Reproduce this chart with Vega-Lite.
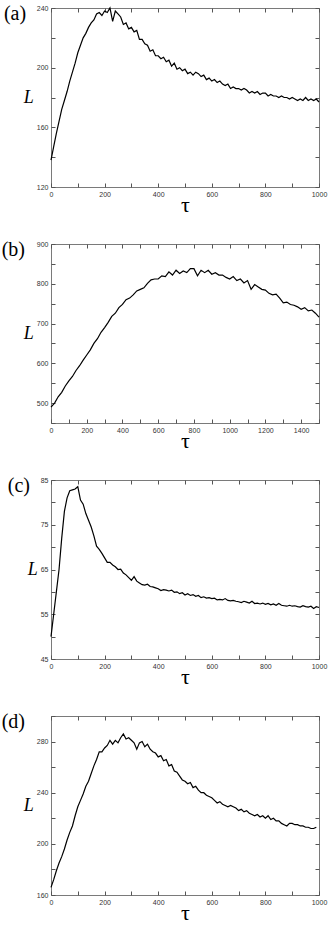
{
  "$schema": "https://vega.github.io/schema/vega-lite/v6.json",
  "background": "white",
  "padding": {"left": 1, "top": 3, "right": 2, "bottom": 0},
  "spacing": 23,
  "config": {
    "view": {"stroke": "#7a7a7a", "strokeWidth": 1},
    "axis": {"grid": false, "domain": false, "tickColor": "#555", "tickSize": -4, "tickWidth": 1,
      "labelFont": "Liberation Sans", "labelFontSize": 7, "labelColor": "#333", "labelFlush": false,
      "labelOverlap": false, "labelPadding": 7, "format": "d"},
    "line": {"color": "black", "strokeWidth": 1.2},
    "title": {"orient": "left", "anchor": "end", "angle": 0, "align": "left", "baseline": "top",
      "font": "Liberation Serif", "fontSize": 20, "fontWeight": "normal", "color": "black", "offset": -25}
  },
  "datasets": {
    "a": [{"t":0,"L":138},{"t":10,"L":147},{"t":20,"L":156},{"t":30,"L":164},{"t":40,"L":172},{"t":50,"L":178},{"t":60,"L":184},{"t":70,"L":191},{"t":80,"L":197},{"t":90,"L":203},{"t":100,"L":210},{"t":110,"L":215},{"t":120,"L":220},{"t":130,"L":223},{"t":140,"L":227},{"t":150,"L":230},{"t":160,"L":232},{"t":170,"L":236},{"t":180,"L":237},{"t":190,"L":235},{"t":200,"L":238},{"t":210,"L":237},{"t":220,"L":240},{"t":230,"L":231},{"t":240,"L":238},{"t":250,"L":236},{"t":260,"L":234},{"t":270,"L":229},{"t":280,"L":230},{"t":290,"L":226},{"t":300,"L":227},{"t":310,"L":224},{"t":320,"L":225},{"t":330,"L":219},{"t":340,"L":219},{"t":350,"L":216},{"t":360,"L":215},{"t":370,"L":211},{"t":380,"L":212},{"t":390,"L":208},{"t":400,"L":208},{"t":410,"L":206},{"t":420,"L":207},{"t":430,"L":204},{"t":440,"L":205},{"t":450,"L":201},{"t":460,"L":203},{"t":470,"L":199},{"t":480,"L":200},{"t":490,"L":198},{"t":500,"L":199},{"t":510,"L":196},{"t":520,"L":197},{"t":530,"L":195},{"t":540,"L":197},{"t":550,"L":196},{"t":560,"L":194},{"t":570,"L":195},{"t":580,"L":192},{"t":590,"L":193},{"t":600,"L":191},{"t":610,"L":192},{"t":620,"L":190},{"t":630,"L":191},{"t":640,"L":189},{"t":650,"L":188},{"t":660,"L":189},{"t":670,"L":186},{"t":680,"L":187},{"t":690,"L":186},{"t":700,"L":186},{"t":710,"L":185},{"t":720,"L":186},{"t":730,"L":185},{"t":740,"L":183},{"t":750,"L":184},{"t":760,"L":183},{"t":770,"L":184},{"t":780,"L":182},{"t":790,"L":183},{"t":800,"L":183},{"t":810,"L":181},{"t":820,"L":182},{"t":830,"L":181},{"t":840,"L":181},{"t":850,"L":180},{"t":860,"L":181},{"t":870,"L":180},{"t":880,"L":180},{"t":890,"L":179},{"t":900,"L":180},{"t":910,"L":179},{"t":920,"L":178},{"t":930,"L":179},{"t":940,"L":178},{"t":950,"L":180},{"t":960,"L":178},{"t":970,"L":179},{"t":980,"L":178},{"t":990,"L":179},{"t":1000,"L":177}],
    "b": [{"t":0,"L":490},{"t":20,"L":500},{"t":40,"L":516},{"t":60,"L":527},{"t":80,"L":543},{"t":100,"L":556},{"t":120,"L":567},{"t":140,"L":582},{"t":160,"L":594},{"t":180,"L":608},{"t":200,"L":621},{"t":220,"L":634},{"t":240,"L":650},{"t":260,"L":662},{"t":280,"L":678},{"t":300,"L":690},{"t":320,"L":703},{"t":340,"L":718},{"t":360,"L":726},{"t":380,"L":740},{"t":400,"L":748},{"t":420,"L":760},{"t":440,"L":764},{"t":460,"L":772},{"t":480,"L":782},{"t":500,"L":786},{"t":520,"L":790},{"t":540,"L":801},{"t":560,"L":810},{"t":580,"L":812},{"t":600,"L":812},{"t":620,"L":820},{"t":640,"L":818},{"t":660,"L":830},{"t":680,"L":822},{"t":700,"L":834},{"t":720,"L":826},{"t":740,"L":832},{"t":760,"L":828},{"t":780,"L":838},{"t":800,"L":838},{"t":820,"L":820},{"t":840,"L":834},{"t":860,"L":828},{"t":880,"L":834},{"t":900,"L":824},{"t":920,"L":828},{"t":940,"L":822},{"t":960,"L":822},{"t":980,"L":816},{"t":1000,"L":812},{"t":1020,"L":818},{"t":1040,"L":808},{"t":1060,"L":812},{"t":1080,"L":802},{"t":1100,"L":808},{"t":1120,"L":786},{"t":1140,"L":798},{"t":1160,"L":792},{"t":1180,"L":786},{"t":1200,"L":784},{"t":1220,"L":776},{"t":1240,"L":772},{"t":1260,"L":774},{"t":1280,"L":764},{"t":1300,"L":752},{"t":1320,"L":754},{"t":1340,"L":748},{"t":1360,"L":746},{"t":1380,"L":742},{"t":1400,"L":736},{"t":1420,"L":740},{"t":1440,"L":732},{"t":1460,"L":734},{"t":1480,"L":726},{"t":1500,"L":716}],
    "c": [{"t":0,"L":50},{"t":10,"L":55},{"t":20,"L":60},{"t":30,"L":65},{"t":40,"L":72},{"t":50,"L":78},{"t":60,"L":81},{"t":70,"L":82.6},{"t":80,"L":82.8},{"t":90,"L":83},{"t":100,"L":83.5},{"t":110,"L":80.5},{"t":120,"L":79.6},{"t":130,"L":77.5},{"t":140,"L":76},{"t":150,"L":74.5},{"t":160,"L":72.5},{"t":170,"L":70.2},{"t":180,"L":69.5},{"t":190,"L":68.6},{"t":200,"L":67.6},{"t":210,"L":66.6},{"t":220,"L":66.6},{"t":230,"L":66.0},{"t":240,"L":65.6},{"t":250,"L":65.0},{"t":260,"L":65.1},{"t":270,"L":64.2},{"t":280,"L":63.8},{"t":290,"L":63.2},{"t":300,"L":62.6},{"t":310,"L":63.4},{"t":320,"L":62.4},{"t":330,"L":62.0},{"t":340,"L":61.6},{"t":350,"L":61.5},{"t":360,"L":61.7},{"t":370,"L":61.2},{"t":380,"L":61.1},{"t":390,"L":60.9},{"t":400,"L":60.7},{"t":410,"L":60.3},{"t":420,"L":60.5},{"t":430,"L":60.4},{"t":440,"L":60.2},{"t":450,"L":60.4},{"t":460,"L":59.9},{"t":470,"L":60.0},{"t":480,"L":59.6},{"t":490,"L":59.8},{"t":500,"L":59.3},{"t":510,"L":59.6},{"t":520,"L":59.2},{"t":530,"L":59.4},{"t":540,"L":59.0},{"t":550,"L":59.2},{"t":560,"L":58.7},{"t":570,"L":58.9},{"t":580,"L":58.6},{"t":590,"L":58.7},{"t":600,"L":58.5},{"t":610,"L":58.6},{"t":620,"L":58.2},{"t":630,"L":58.3},{"t":640,"L":58.2},{"t":650,"L":58.5},{"t":660,"L":58.1},{"t":670,"L":58.0},{"t":680,"L":58.1},{"t":690,"L":57.9},{"t":700,"L":57.8},{"t":710,"L":57.6},{"t":720,"L":57.9},{"t":730,"L":57.7},{"t":740,"L":57.5},{"t":750,"L":57.9},{"t":760,"L":57.4},{"t":770,"L":57.5},{"t":780,"L":57.3},{"t":790,"L":57.5},{"t":800,"L":57.2},{"t":810,"L":57.4},{"t":820,"L":57.1},{"t":830,"L":57.3},{"t":840,"L":57.0},{"t":850,"L":57.4},{"t":860,"L":57.0},{"t":870,"L":56.9},{"t":880,"L":56.8},{"t":890,"L":57.0},{"t":900,"L":56.8},{"t":910,"L":56.9},{"t":920,"L":56.7},{"t":930,"L":56.6},{"t":940,"L":56.9},{"t":950,"L":56.7},{"t":960,"L":56.6},{"t":970,"L":56.8},{"t":980,"L":56.3},{"t":990,"L":56.7},{"t":1000,"L":56.5}],
    "d": [{"t":0,"L":166},{"t":10,"L":172},{"t":20,"L":179},{"t":30,"L":185},{"t":40,"L":190},{"t":50,"L":196},{"t":60,"L":203},{"t":70,"L":209},{"t":80,"L":214},{"t":90,"L":222},{"t":100,"L":229},{"t":110,"L":234},{"t":120,"L":239},{"t":130,"L":245},{"t":140,"L":249},{"t":150,"L":255},{"t":160,"L":261},{"t":170,"L":266},{"t":180,"L":272},{"t":190,"L":272},{"t":200,"L":275},{"t":210,"L":277},{"t":220,"L":281},{"t":230,"L":278},{"t":240,"L":281},{"t":250,"L":279},{"t":260,"L":283},{"t":270,"L":286},{"t":280,"L":282},{"t":290,"L":283},{"t":300,"L":281},{"t":310,"L":279},{"t":320,"L":274},{"t":330,"L":279},{"t":340,"L":280},{"t":350,"L":276},{"t":360,"L":278},{"t":370,"L":274},{"t":380,"L":272},{"t":390,"L":271},{"t":400,"L":268},{"t":410,"L":269},{"t":420,"L":265},{"t":430,"L":266},{"t":440,"L":261},{"t":450,"L":262},{"t":460,"L":257},{"t":470,"L":256},{"t":480,"L":253},{"t":490,"L":250},{"t":500,"L":249},{"t":510,"L":247},{"t":520,"L":248},{"t":530,"L":244},{"t":540,"L":245},{"t":550,"L":242},{"t":560,"L":240},{"t":570,"L":240},{"t":580,"L":238},{"t":590,"L":237},{"t":600,"L":236},{"t":610,"L":234},{"t":620,"L":232},{"t":630,"L":233},{"t":640,"L":231},{"t":650,"L":230},{"t":660,"L":229},{"t":670,"L":230},{"t":680,"L":229},{"t":690,"L":228},{"t":700,"L":226},{"t":710,"L":227},{"t":720,"L":225},{"t":730,"L":226},{"t":740,"L":224},{"t":750,"L":223},{"t":760,"L":222},{"t":770,"L":223},{"t":780,"L":221},{"t":790,"L":222},{"t":800,"L":220},{"t":810,"L":222},{"t":820,"L":219},{"t":830,"L":220},{"t":840,"L":218},{"t":850,"L":218},{"t":860,"L":216},{"t":870,"L":215},{"t":880,"L":214},{"t":890,"L":216},{"t":900,"L":216},{"t":910,"L":215},{"t":920,"L":215},{"t":930,"L":214},{"t":940,"L":214},{"t":950,"L":213},{"t":960,"L":213},{"t":970,"L":212},{"t":980,"L":212},{"t":990,"L":213}]
  },
  "vconcat": [
    {
      "title": {"text": "(a)"},
      "width": 268, "height": 179,
      "data": {"name": "a"},
      "layer": [
        {"mark": {"type": "line"},
         "encoding": {
           "x": {"field": "t", "type": "quantitative", "scale": {"domain": [0, 1000], "nice": false},
             "axis": {"orient": "bottom", "values": [0,100,200,300,400,500,600,700,800,900,1000], "labelExpr": "datum.value % 200 === 0 ? datum.label : ''", "title": "τ", "titleFont": "Liberation Serif", "titleFontSize": 22, "titleFontWeight": "normal", "titleColor": "black", "titlePadding": -3}},
           "y": {"field": "L", "type": "quantitative", "scale": {"domain": [120, 240], "nice": false, "zero": false},
             "axis": {"orient": "left", "values": [120,140,160,180,200,220,240], "labelExpr": "datum.value % 40 === 0 ? datum.label : ''", "title": "L", "titleAngle": 0, "titleFont": "Liberation Serif", "titleFontStyle": "italic", "titleFontSize": 18, "titleFontWeight": "normal", "titleColor": "black", "titleBaseline": "middle", "titleAlign": "right", "titlePadding": 3}}
         }},
        {"mark": {"type": "line", "strokeOpacity": 0},
         "encoding": {
           "x": {"field": "t", "type": "quantitative", "axis": {"orient": "top", "values": [0,100,200,300,400,500,600,700,800,900,1000], "labels": false, "title": null}},
           "y": {"field": "L", "type": "quantitative", "axis": {"orient": "right", "values": [120,140,160,180,200,220,240], "labels": false, "title": null}}
         }}
      ],
      "resolve": {"axis": {"x": "independent", "y": "independent"}}
    },
    {
      "title": {"text": "(b)"},
      "width": 268, "height": 179,
      "data": {"name": "b"},
      "layer": [
        {"mark": {"type": "line"},
         "encoding": {
           "x": {"field": "t", "type": "quantitative", "scale": {"domain": [0, 1500], "nice": false},
             "axis": {"orient": "bottom", "values": [0,100,200,300,400,500,600,700,800,900,1000,1100,1200,1300,1400,1500], "labelExpr": "datum.value % 200 === 0 ? datum.label : ''", "title": "τ", "titleFont": "Liberation Serif", "titleFontSize": 22, "titleFontWeight": "normal", "titleColor": "black", "titlePadding": -3}},
           "y": {"field": "L", "type": "quantitative", "scale": {"domain": [450, 900], "nice": false, "zero": false},
             "axis": {"orient": "left", "values": [450,500,550,600,650,700,750,800,850,900], "labelExpr": "datum.value % 100 === 0 ? datum.label : ''", "title": "L", "titleAngle": 0, "titleFont": "Liberation Serif", "titleFontStyle": "italic", "titleFontSize": 18, "titleFontWeight": "normal", "titleColor": "black", "titleBaseline": "middle", "titleAlign": "right", "titlePadding": 3}}
         }},
        {"mark": {"type": "line", "strokeOpacity": 0},
         "encoding": {
           "x": {"field": "t", "type": "quantitative", "axis": {"orient": "top", "values": [0,100,200,300,400,500,600,700,800,900,1000,1100,1200,1300,1400,1500], "labels": false, "title": null}},
           "y": {"field": "L", "type": "quantitative", "axis": {"orient": "right", "values": [450,500,550,600,650,700,750,800,850,900], "labels": false, "title": null}}
         }}
      ],
      "resolve": {"axis": {"x": "independent", "y": "independent"}}
    },
    {
      "title": {"text": "(c)"},
      "width": 268, "height": 179,
      "data": {"name": "c"},
      "layer": [
        {"mark": {"type": "line"},
         "encoding": {
           "x": {"field": "t", "type": "quantitative", "scale": {"domain": [0, 1000], "nice": false},
             "axis": {"orient": "bottom", "values": [0,100,200,300,400,500,600,700,800,900,1000], "labelExpr": "datum.value % 200 === 0 ? datum.label : ''", "title": "τ", "titleFont": "Liberation Serif", "titleFontSize": 22, "titleFontWeight": "normal", "titleColor": "black", "titlePadding": -3}},
           "y": {"field": "L", "type": "quantitative", "scale": {"domain": [45, 85], "nice": false, "zero": false},
             "axis": {"orient": "left", "values": [45,50,55,60,65,70,75,80,85], "labelExpr": "(datum.value - 45) % 10 === 0 ? datum.label : ''", "title": "L", "titleAngle": 0, "titleFont": "Liberation Serif", "titleFontStyle": "italic", "titleFontSize": 18, "titleFontWeight": "normal", "titleColor": "black", "titleBaseline": "middle", "titleAlign": "right", "titlePadding": 3}}
         }},
        {"mark": {"type": "line", "strokeOpacity": 0},
         "encoding": {
           "x": {"field": "t", "type": "quantitative", "axis": {"orient": "top", "values": [0,100,200,300,400,500,600,700,800,900,1000], "labels": false, "title": null}},
           "y": {"field": "L", "type": "quantitative", "axis": {"orient": "right", "values": [45,50,55,60,65,70,75,80,85], "labels": false, "title": null}}
         }}
      ],
      "resolve": {"axis": {"x": "independent", "y": "independent"}}
    },
    {
      "title": {"text": "(d)"},
      "width": 268, "height": 179,
      "data": {"name": "d"},
      "layer": [
        {"mark": {"type": "line"},
         "encoding": {
           "x": {"field": "t", "type": "quantitative", "scale": {"domain": [0, 1000], "nice": false},
             "axis": {"orient": "bottom", "values": [0,100,200,300,400,500,600,700,800,900,1000], "labelExpr": "datum.value % 200 === 0 ? datum.label : ''", "title": "τ", "titleFont": "Liberation Serif", "titleFontSize": 22, "titleFontWeight": "normal", "titleColor": "black", "titlePadding": -3}},
           "y": {"field": "L", "type": "quantitative", "scale": {"domain": [160, 300], "nice": false, "zero": false},
             "axis": {"orient": "left", "values": [160,180,200,220,240,260,280,300], "labelExpr": "datum.value % 40 === 0 ? datum.label : ''", "title": "L", "titleAngle": 0, "titleFont": "Liberation Serif", "titleFontStyle": "italic", "titleFontSize": 18, "titleFontWeight": "normal", "titleColor": "black", "titleBaseline": "middle", "titleAlign": "right", "titlePadding": 3}}
         }},
        {"mark": {"type": "line", "strokeOpacity": 0},
         "encoding": {
           "x": {"field": "t", "type": "quantitative", "axis": {"orient": "top", "values": [0,100,200,300,400,500,600,700,800,900,1000], "labels": false, "title": null}},
           "y": {"field": "L", "type": "quantitative", "axis": {"orient": "right", "values": [160,180,200,220,240,260,280,300], "labels": false, "title": null}}
         }}
      ],
      "resolve": {"axis": {"x": "independent", "y": "independent"}}
    }
  ]
}
